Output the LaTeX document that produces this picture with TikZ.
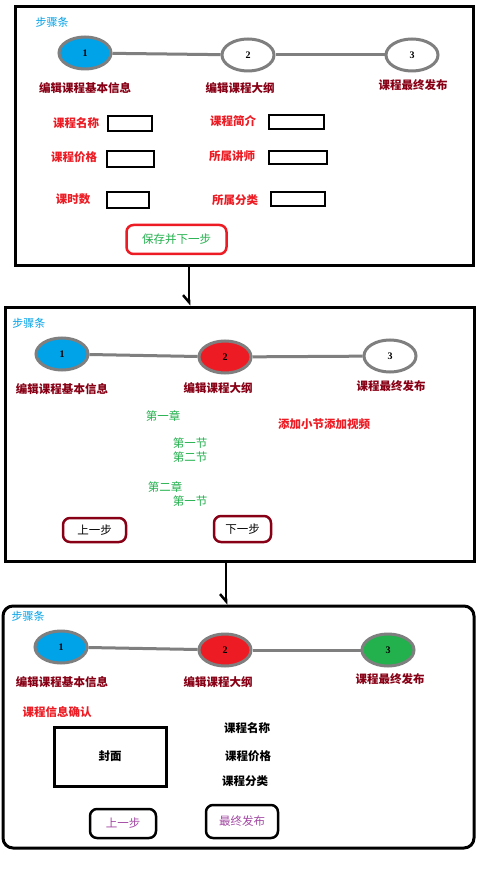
\documentclass[tikz,border=0pt]{standalone}
\usepackage{fontspec}
\setmainfont{Liberation Serif}
\newfontfamily\cjk{Noto Sans CJK SC}
\usetikzlibrary{shapes.geometric,arrows.meta}
\definecolor{pblue}{HTML}{00A2E8}
\definecolor{pred}{HTML}{ED1C24}
\definecolor{pgreen}{HTML}{22B14C}
\definecolor{pdark}{HTML}{880015}
\definecolor{pgray}{HTML}{7F7F7F}
\definecolor{ppurple}{HTML}{A349A4}
\tikzset{
  panel/.style={draw=black, line width=3pt, inner sep=0pt},
  ell/.style={ellipse, draw=pgray, line width=3pt, minimum width=52pt, minimum height=32pt, inner sep=0pt, font=\fontsize{10}{12}\selectfont\bfseries},
  conn/.style={draw=pgray, line width=3pt},
  stepname/.style={font=\cjk\bfseries\fontsize{11.5}{13}\selectfont, text=pdark, inner sep=0pt},
  bartitle/.style={font=\cjk\fontsize{11}{13}\selectfont, text=pblue, inner sep=0pt},
  fieldlbl/.style={font=\cjk\bfseries\fontsize{11.5}{13}\selectfont, text=pred, inner sep=0pt},
  fieldbox/.style={draw=black, line width=2.5pt, inner sep=0pt},
  outline/.style={font=\cjk\fontsize{11.5}{13}\selectfont, text=pgreen, inner sep=0pt},
  btn/.style={draw, line width=2.5pt, rounded corners=7pt, inner sep=0pt, font=\cjk\fontsize{11.5}{13}\selectfont},
  plain/.style={font=\cjk\bfseries\fontsize{11.5}{13}\selectfont, text=black, inner sep=0pt},
  flow/.style={draw=black, line width=2.5pt, -{Straight Barb[right, length=7pt, width=12pt, line width=2.5pt]}}
}
\begin{document}
\begin{tikzpicture}[x=1pt,y=-1pt]
\useasboundingbox (0,0) rectangle (476,890);
\fill[white] (0,0) rectangle (476,890);

% ---------- Panel 1 ----------
\node[panel, minimum width=458pt, minimum height=259pt] (p1) at (244,136.5) {};
\node[bartitle] (t1) at (52,22) {步骤条};
\node[ell, fill=pblue] (a1) at (85,53) {1};
\node[ell, fill=white] (a2) at (248,55) {2};
\node[ell, fill=white] (a3) at (412,55) {3};
\draw[conn] (a1) -- (a2);
\draw[conn] (a2) -- (a3);
\node[stepname] (al1) at (85,88) {编辑课程基本信息};
\node[stepname] (al2) at (240,88) {编辑课程大纲};
\node[stepname] (al3) at (413,85) {课程最终发布};

\node[fieldlbl] (f1) at (76,123) {课程名称};
\node[fieldbox, minimum width=44pt, minimum height=15pt] (b1) at (130,123.5) {};
\node[fieldlbl] (f2) at (233,121) {课程简介};
\node[fieldbox, minimum width=55pt, minimum height=14pt] (b2) at (296.5,122) {};
\node[fieldlbl] (f3) at (74,157) {课程价格};
\node[fieldbox, minimum width=47pt, minimum height=16pt] (b3) at (130.5,159) {};
\node[fieldlbl] (f4) at (232,156) {所属讲师};
\node[fieldbox, minimum width=58pt, minimum height=13pt] (b4) at (298,157.5) {};
\node[fieldlbl] (f5) at (73,199) {课时数};
\node[fieldbox, minimum width=42pt, minimum height=16pt] (b5) at (128,200) {};
\node[fieldlbl] (f6) at (235,200) {所属分类};
\node[fieldbox, minimum width=54pt, minimum height=14pt] (b6) at (298,199) {};

\node[btn, draw=pred, text=pgreen, minimum width=100pt, minimum height=29pt] (save) at (176.5,239.5) {保存并下一步};

% ---------- Panel 2 ----------
\node[panel, minimum width=469pt, minimum height=254pt] (p2) at (239.5,434) {};
\node[bartitle] (t2) at (29,323) {步骤条};
\node[ell, fill=pblue] (c1) at (62,354) {1};
\node[ell, fill=pred] (c2) at (225,357) {2};
\node[ell, fill=white] (c3) at (390,356) {3};
\draw[conn] (c1) -- (c2);
\draw[conn] (c2) -- (c3);
\node[stepname] (cl1) at (62,389) {编辑课程基本信息};
\node[stepname] (cl2) at (218,388) {编辑课程大纲};
\node[stepname] (cl3) at (391,386) {课程最终发布};

\node[outline] (o1) at (163,416) {第一章};
\node[outline] (o2) at (190,443) {第一节};
\node[outline] (o3) at (190,457) {第二节};
\node[outline] (o4) at (165,487) {第二章};
\node[outline] (o5) at (190,501) {第一节};
\node[fieldlbl] (add) at (324,424) {添加小节添加视频};

\node[btn, draw=pdark, text=black, minimum width=63pt, minimum height=24pt] (prev2) at (94.5,530) {上一步};
\node[btn, draw=pdark, text=black, minimum width=57pt, minimum height=26pt] (next2) at (242.5,529) {下一步};

% ---------- Panel 3 ----------
\node[panel, rounded corners=10pt, minimum width=471pt, minimum height=242pt] (p3) at (238.5,727) {};
\node[bartitle] (t3) at (28,616) {步骤条};
\node[ell, fill=pblue] (d1) at (61,647) {1};
\node[ell, fill=pred] (d2) at (225,650) {2};
\node[ell, fill=pgreen] (d3) at (388,650) {3};
\draw[conn] (d1) -- (d2);
\draw[conn] (d2) -- (d3);
\node[stepname] (dl1) at (62,682) {编辑课程基本信息};
\node[stepname] (dl2) at (218,682) {编辑课程大纲};
\node[stepname] (dl3) at (390,679) {课程最终发布};

\node[fieldlbl] (confirm) at (57,712) {课程信息确认};
\node[fieldbox, line width=3pt, minimum width=112pt, minimum height=59pt, font=\cjk\bfseries\fontsize{11.5}{13}\selectfont] (cover) at (110,756.5) {封面};
\node[plain] (n1) at (247,728) {课程名称};
\node[plain] (n2) at (248,756) {课程价格};
\node[plain] (n3) at (245,781) {课程分类};

\node[btn, draw=black, text=ppurple, minimum width=66pt, minimum height=29pt] (prev3) at (123,823.5) {上一步};
\node[btn, draw=black, text=ppurple, minimum width=72pt, minimum height=33pt] (pub) at (242,821.5) {最终发布};

% ---------- Flow arrows ----------
\coordinate (s1) at (189,266);
\coordinate (s2) at (226,561);
\draw[flow] (s1) -- (s1 |- p2.north);
\draw[flow] (s2) -- (s2 |- p3.north);
\end{tikzpicture}
\end{document}
